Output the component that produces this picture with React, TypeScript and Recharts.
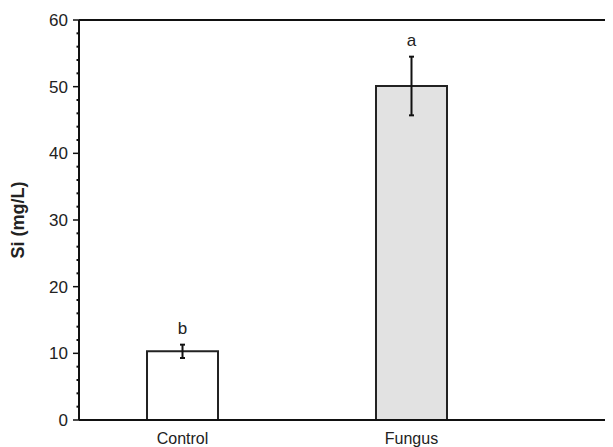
import React from 'react';
import { ComposedChart, Bar, Line, XAxis, YAxis, ErrorBar, Cell, LabelList, ReferenceLine } from 'recharts';

const categories = ['Control', 'Fungus'];
const means = [10.3, 50.1];
const errors = [1.0, 4.4];
const letters = ['b', 'a'];
const fills = ['#ffffff', '#e2e2e2'];
const yTicks = [0, 2, 4, 6, 8, 10, 12, 14, 16, 18, 20, 22, 24, 26, 28, 30, 32, 34, 36, 38, 40, 42, 44, 46, 48, 50, 52, 54, 56, 58, 60];

const data = categories.map((c, i) => ({
  x: i + 1,
  name: c,
  mean: means[i],
  err: errors[i],
  top: means[i] + errors[i],
  sig: letters[i],
}));

const FONT = 'Liberation Sans, Arial, sans-serif';

const YTick = (props: any) => {
  const { x, y, payload } = props;
  const major = payload.value % 10 === 0;
  return (
    <g>
      <line x1={x - (major ? 6 : 2.5)} x2={x} y1={y} y2={y} stroke="#111" strokeWidth={major ? 1.5 : 2} />
      {major && (
        <text x={x - 11} y={y} dy="0.35em" textAnchor="end" fontSize={17} fontFamily={FONT} fill="#222">
          {payload.value}
        </text>
      )}
    </g>
  );
};

export default function App() {
  return (
    <div style={{ width: 605, height: 439, background: '#fff' }}>
      <ComposedChart width={605} height={439} data={data} margin={{ top: 12, right: 0, bottom: 0, left: 0 }}>
        <XAxis
          dataKey="x"
          type="number"
          domain={[0.548, 2.88]}
          ticks={[1, 2]}
          allowDataOverflow
          tickFormatter={(v: number) => categories[v - 1]}
          height={27}
          tickLine={false}
          tickSize={8}
          tickMargin={5}
          axisLine={{ stroke: '#111', strokeWidth: 2 }}
          tick={{ fontSize: 16, fontFamily: FONT, fill: '#222' }}
        />
        <YAxis
          type="number"
          domain={[0, 60]}
          ticks={yTicks}
          interval={0}
          width={71}
          tickLine={false}
          tickSize={0}
          tickMargin={0}
          axisLine={{ stroke: '#111', strokeWidth: 2 }}
          tick={<YTick />}
          label={{
            value: 'Si (mg/L)',
            angle: -90,
            position: 'insideLeft',
            offset: 10,
            style: { textAnchor: 'middle', fontSize: 18, fontWeight: 'bold', fontFamily: FONT, fill: '#222' },
          }}
        />
        <ReferenceLine y={60} stroke="#111" strokeWidth={2} />
        <Bar dataKey="mean" barSize={71} stroke="#222" strokeWidth={2} isAnimationActive={false}>
          {data.map((d, i) => (
            <Cell key={d.name} fill={fills[i]} />
          ))}
          <ErrorBar dataKey="err" width={2.5} stroke="#111" strokeWidth={2} />
        </Bar>
        <Line dataKey="top" stroke="none" dot={false} activeDot={false} isAnimationActive={false}>
          <LabelList dataKey="sig" position="top" offset={11} fontSize={17} fontFamily={FONT} fill="#222" />
        </Line>
      </ComposedChart>
    </div>
  );
}
